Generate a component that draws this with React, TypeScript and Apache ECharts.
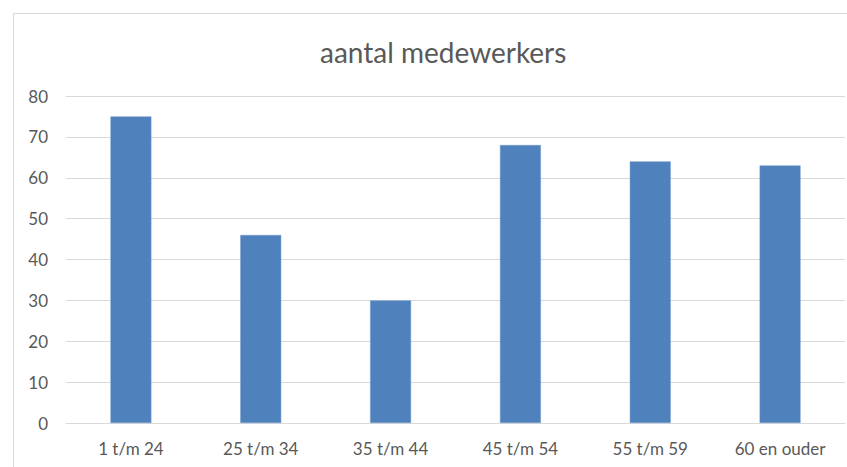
import React, { useEffect, useRef } from "react";
import * as echarts from "echarts";

const categories = ["1 t/m 24", "25 t/m 34", "35 t/m 44", "45 t/m 54", "55 t/m 59", "60 en ouder"];
const values = [75, 46, 30, 68, 64, 63];
const yTicks = { min: 0, max: 80, interval: 10 };
const title = "aantal medewerkers";

export default function App() {
  const ref = useRef<HTMLDivElement>(null);
  useEffect(() => {
    if (!ref.current) return;
    const chart = echarts.init(ref.current, null, { renderer: "svg" });
    chart.setOption({
      animation: false,
      backgroundColor: "#ffffff",
      title: {
        text: title,
        left: 315,
        top: 33,
        textStyle: { fontFamily: "Lato", fontSize: 28, fontWeight: "normal", color: "#595959" },
      },
      graphic: [
        {
          type: "rect",
          shape: { x: 13.5, y: 13.5, width: 850, height: 480 },
          style: { fill: "none", stroke: "#d9d9d9", lineWidth: 1 },
          silent: true,
        },
      ],
      grid: { left: 66, right: 2, top: 96, bottom: 44 },
      xAxis: {
        type: "category",
        data: categories,
        axisLine: { lineStyle: { color: "#d9d9d9" } },
        axisTick: { show: false },
        axisLabel: { color: "#595959", fontFamily: "Lato", fontSize: 17, margin: 17 },
      },
      yAxis: {
        type: "value",
        min: yTicks.min,
        max: yTicks.max,
        interval: yTicks.interval,
        axisLine: { show: false },
        axisTick: { show: false },
        splitLine: { lineStyle: { color: "#d9d9d9" } },
        axisLabel: { color: "#595959", fontFamily: "Lato", fontSize: 17, margin: 18 },
      },
      series: [
        {
          type: "bar",
          data: values,
          barWidth: "31.5%",
          itemStyle: { color: "#4f81bd", borderColor: "#6f98cc", borderWidth: 0.5 },
        },
      ],
    });
    return () => chart.dispose();
  }, []);
  return <div ref={ref} style={{ position: "fixed", left: 0, top: 0, width: 847, height: 467 }} />;
}
